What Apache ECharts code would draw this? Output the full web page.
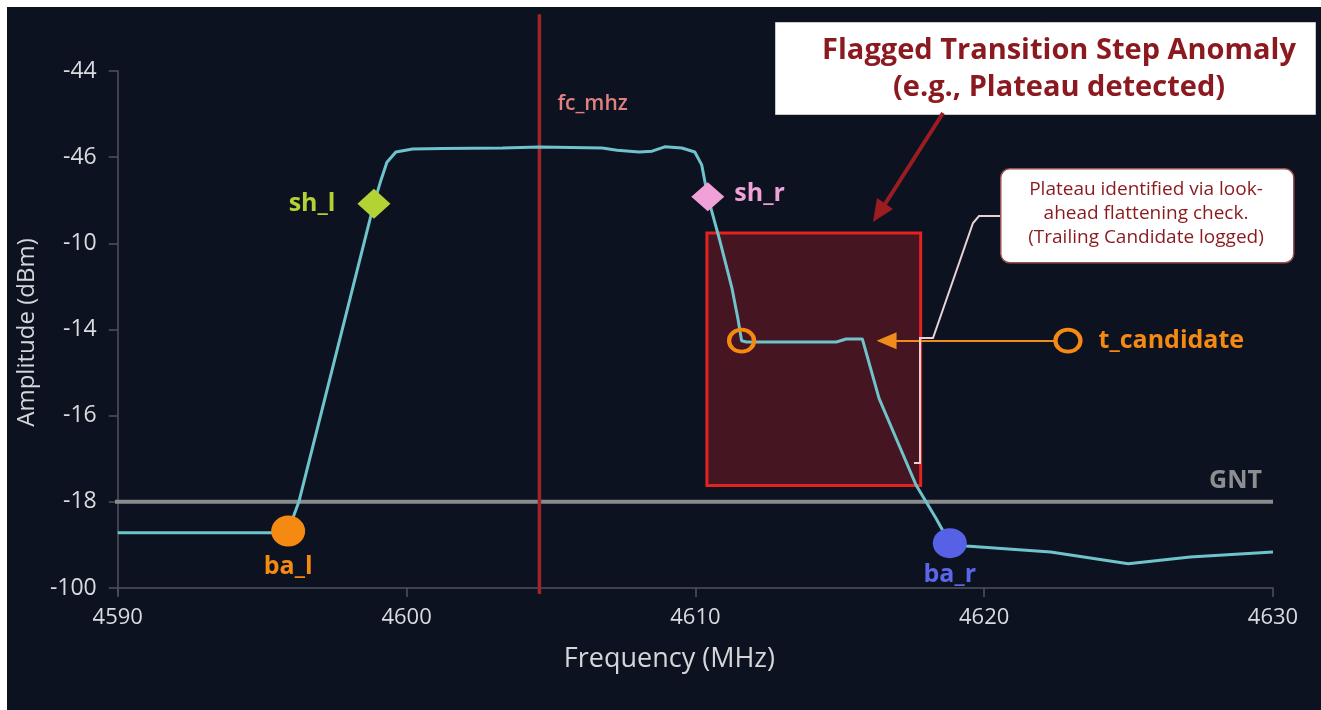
<!DOCTYPE html>
<html>
<head>
<meta charset="utf-8">
<title>Flagged Transition Step Anomaly</title>
<script src="https://cdn.jsdelivr.net/npm/echarts@6/dist/echarts.min.js"></script>
<style>
  html, body { margin: 0; padding: 0; background: #ffffff; }
  #chart { position: absolute; left: 7px; top: 7px; width: 1314px; height: 703px; background: #0d1220; }
</style>
</head>
<body>
<div id="chart"></div>
<script>
// y axis is drawn on evenly spaced slots, labelled with the odd tick text of the source
var yTickLabels = ['-100', '-18', '-16', '-14', '-10', '-46', '-44'];
var xTicks = [4590, 4600, 4610, 4620, 4630];

// trace (MHz, slot position)
var freqMHz = [4590, 4595.4, 4595.9, 4596.28, 4598.87, 4599.11, 4599.32, 4599.63, 4600.21, 4601.25,
    4603.32, 4604.6, 4606.77, 4607.29, 4608.05, 4608.5, 4608.94, 4609.53, 4609.98, 4610.22,
    4610.43, 4610.84, 4611.26, 4611.47, 4611.6, 4611.77, 4614.88, 4615.22, 4615.78, 4616.36,
    4617.64, 4618.33, 4618.81, 4619.37, 4622.3, 4624.99, 4627.13, 4630];
var amplitude = [0.64, 0.64, 0.66, 1.01, 4.46, 4.73, 4.94, 5.06, 5.095, 5.1,
    5.106, 5.118, 5.106, 5.08, 5.06, 5.07, 5.12, 5.106, 5.06, 4.91,
    4.54, 4.04, 3.49, 3.13, 2.87, 2.855, 2.855, 2.89, 2.89, 2.2,
    1.195, 0.81, 0.52, 0.487, 0.418, 0.28, 0.36, 0.418];

// reference lines and markers
var fcMHz = 4604.6;
var gntLevel = 1;
var baL = [4595.9, 0.66];
var shL = [4598.87, 4.46];
var shR = [4610.43, 4.54];
var baR = [4618.81, 0.52];
var tCandidate = [4611.6, 2.87];
var tCandidateKey = [4622.9, 2.87];
var arrowFrom = [4622.45, 2.87];
var arrowTo = [4616.62, 2.87];
var anomalyBox = [[4610.4, 4.12], [4617.8, 1.19]];

var fontFam = '"Open Sans", "Noto Sans", sans-serif';

var traceData = freqMHz.map(function (f, i) { return [f, amplitude[i]]; });

var chart = echarts.init(document.getElementById('chart'));

function markerLabel(text, color, pos, dist) {
    return { show: true, position: pos, distance: dist, formatter: text, color: color, fontSize: 25, fontWeight: 'bold' };
}

var option = {
    backgroundColor: '#0d1220',
    animation: false,
    textStyle: { fontFamily: fontFam },
    grid: { left: 107, top: 64, width: 1159, height: 523 },
    xAxis: {
        type: 'value',
        min: 4590,
        max: 4630,
        interval: 10,
        name: 'Frequency (MHz)',
        nameLocation: 'middle',
        nameGap: 52,
        nameTextStyle: { color: '#d4d6da', fontSize: 27, padding: [0, 52, 0, 0] },
        axisLine: { show: true, lineStyle: { color: '#4e535e', width: 1.5 } },
        axisTick: { show: true, length: 9, lineStyle: { color: '#4e535e', width: 1.5 } },
        axisLabel: {
            color: '#d9dbdf', fontSize: 22, margin: 13,
            customValues: xTicks,
            formatter: function (v) { return String(v); }
        },
        splitLine: { show: false }
    },
    yAxis: {
        type: 'value',
        min: -0.07,
        max: 6,
        name: 'Amplitude (dBm)',
        nameLocation: 'middle',
        nameGap: 74,
        nameRotate: 90,
        nameTextStyle: { color: '#d4d6da', fontSize: 24 },
        axisLine: { show: true, lineStyle: { color: '#4e535e', width: 1.5 } },
        axisTick: { show: true, length: 9, customValues: [0, 1, 2, 3, 4, 5, 6], lineStyle: { color: '#4e535e', width: 1.5 } },
        axisLabel: {
            color: '#d9dbdf', fontSize: 23, margin: 21,
            customValues: [0, 1, 2, 3, 4, 5, 6],
            formatter: function (v) { return yTickLabels[Math.round(v)]; }
        },
        splitLine: { show: false }
    },
    series: [
        {
            // flagged region
            name: 'anomaly',
            type: 'line',
            data: [],
            z: 1,
            markArea: {
                silent: true,
                itemStyle: { color: 'rgba(105, 24, 34, 0.62)', borderColor: '#e2231f', borderWidth: 3, borderRadius: 6 },
                data: [[{ coord: anomalyBox[0] }, { coord: anomalyBox[1] }]]
            }
        },
        {
            name: 'GNT',
            type: 'line',
            clip: false,
            z: 2,
            symbol: 'none',
            lineStyle: { color: '#8a8b8e', width: 4 },
            data: [[4589.8, gntLevel], [4630, gntLevel]]
        },
        {
            name: 'fc_mhz',
            type: 'line',
            clip: false,
            z: 2,
            symbol: 'none',
            lineStyle: { color: '#a3232a', width: 3.5 },
            data: [[fcMHz, -0.07], [fcMHz, 6.66]]
        },
        {
            name: 'trace',
            type: 'line',
            z: 4,
            symbol: 'none',
            smooth: false,
            lineStyle: { color: '#6fc3cb', width: 3 },
            data: traceData,
            markLine: {
                silent: true,
                symbol: ['none', 'triangle'],
                symbolSize: [17, 20],
                label: { show: false },
                lineStyle: { color: '#f08c1c', width: 2, type: 'solid' },
                data: [[{ coord: arrowFrom }, { coord: arrowTo }]]
            }
        },
        {
            name: 'labels',
            type: 'scatter',
            z: 5,
            symbolSize: 0,
            itemStyle: { opacity: 1 },
            data: [
                { value: [fcMHz, 5.62], label: { show: true, position: 'right', distance: 18, formatter: 'fc_mhz', color: '#e0807f', fontSize: 21, fontWeight: 600 } },
                { value: [4629.62, 1.24], label: markerLabel('GNT', '#8d8e91', 'left', 0) }
            ]
        },
        {
            name: 'ba_l',
            type: 'scatter',
            z: 6,
            symbol: 'circle',
            symbolSize: [34, 31],
            itemStyle: { color: '#f58a12', opacity: 1 },
            label: markerLabel('ba_l', '#f58a12', 'bottom', 8),
            data: [baL]
        },
        {
            name: 'sh_l',
            type: 'scatter',
            z: 6,
            symbol: 'diamond',
            symbolSize: [33, 30],
            itemStyle: { color: '#b3d334', opacity: 1 },
            label: markerLabel('sh_l', '#b3d334', 'left', 22),
            data: [shL]
        },
        {
            name: 'sh_r',
            type: 'scatter',
            z: 6,
            symbol: 'diamond',
            symbolSize: [33, 29],
            itemStyle: { color: '#f0a2d8', opacity: 1 },
            label: Object.assign(markerLabel('sh_r', '#f0a2d8', 'right', 10), { offset: [0, -3] }),
            data: [shR]
        },
        {
            name: 'ba_r',
            type: 'scatter',
            z: 6,
            symbol: 'circle',
            symbolSize: [34, 30],
            itemStyle: { color: '#5661e6', opacity: 1 },
            label: markerLabel('ba_r', '#5b66ea', 'bottom', 4),
            data: [baR]
        },
        {
            name: 't_candidate',
            type: 'scatter',
            z: 6,
            symbol: 'circle',
            symbolSize: [25, 22],
            itemStyle: { color: 'rgba(0,0,0,0)', borderColor: '#f58a12', borderWidth: 4, opacity: 1 },
            data: [
                { value: tCandidate },
                { value: tCandidateKey, label: markerLabel('t_candidate', '#f58a12', 'right', 16) }
            ]
        }
    ],
    graphic: [
        // title box
        {
            type: 'rect',
            left: 768, top: 15,
            shape: { width: 540, height: 92 },
            style: { fill: '#ffffff', stroke: '#c9c9c9', lineWidth: 1 },
            z: 10
        },
        {
            type: 'text',
            x: 1052, y: 62,
            style: {
                text: 'Flagged Transition Step Anomaly\n(e.g., Plateau detected)',
                fill: '#8a1a1f',
                font: 'bold 29px ' + fontFam,
                align: 'center',
                verticalAlign: 'middle',
                lineHeight: 37
            },
            z: 11
        },
        // arrow from title to flagged box
        {
            type: 'line',
            shape: { x1: 936, y1: 106, x2: 878, y2: 197 },
            style: { stroke: '#9b1c21', lineWidth: 4 },
            z: 10
        },
        {
            type: 'polygon',
            shape: { points: [[866, 215], [886, 202], [870, 191]] },
            style: { fill: '#9b1c21' },
            z: 10
        },
        // callout box
        {
            type: 'rect',
            left: 993, top: 161,
            shape: { width: 293, height: 94, r: 9 },
            style: { fill: '#ffffff', stroke: '#9a5050', lineWidth: 1.5 },
            z: 10
        },
        {
            type: 'text',
            x: 1139, y: 207,
            style: {
                text: 'Plateau identified via look-\nahead flattening check.\n(Trailing Candidate logged)',
                fill: '#8a1a1f',
                font: '19px ' + fontFam,
                align: 'center',
                verticalAlign: 'middle',
                lineHeight: 24
            },
            z: 11
        },
        // callout connector and bracket
        {
            type: 'polyline',
            shape: { points: [[993, 209], [972, 209], [966, 216], [926, 331], [913, 331], [913, 456], [907, 456]] },
            style: { stroke: '#ead2d4', lineWidth: 2, fill: null },
            z: 9
        }
    ]
};

chart.setOption(option);
</script>
</body>
</html>
